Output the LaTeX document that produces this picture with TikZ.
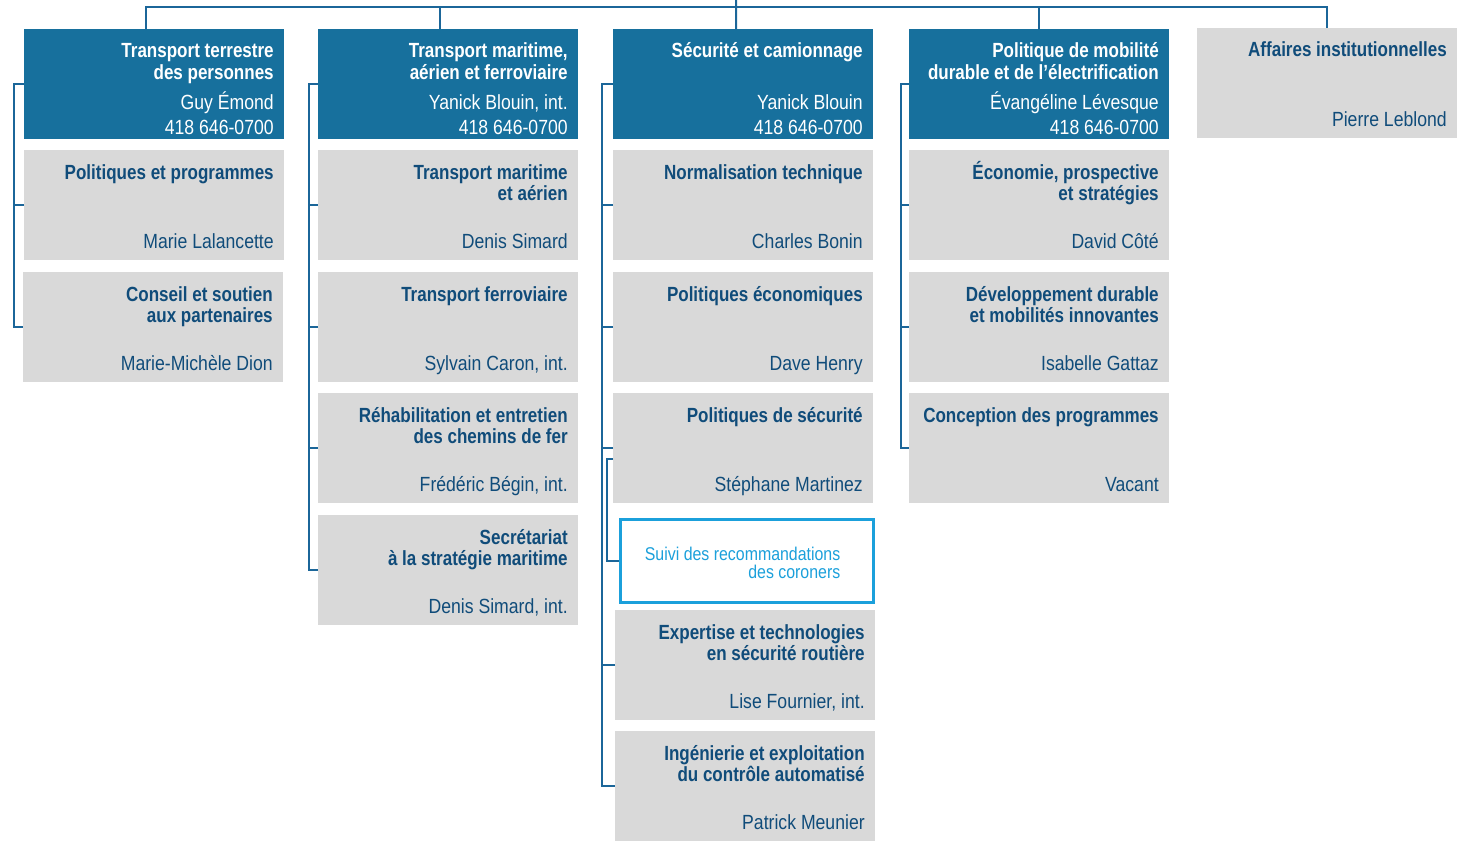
\documentclass[tikz,border=0pt]{standalone}
\usepackage{fontspec}
\setmainfont{Liberation Sans}[FakeStretch=0.86]
\newfontfamily\ttlfamily{Liberation Sans}[FakeStretch=0.83]
\definecolor{hdrblue}{HTML}{17709D}
\definecolor{boxgray}{HTML}{D9D9D9}
\definecolor{navy}{HTML}{104C7A}
\definecolor{linkblue}{HTML}{1B6699}
\definecolor{lightblue}{HTML}{1BA0DB}
\newcommand\ttlines[1]{\begin{tabular}[t]{@{}r@{}}#1\end{tabular}}
\tikzset{
  hdr/.style={fill=hdrblue, draw=none, minimum width=260pt, minimum height=110pt, anchor=north west, inner sep=0pt},
  gbx/.style={fill=boxgray, draw=none, minimum width=260pt, minimum height=110pt, anchor=north west, inner sep=0pt},
  ttl/.style={font=\ttlfamily\bfseries\fontsize{20.5}{21}\selectfont, anchor=base east, inner sep=0pt},
  nm/.style={font=\fontsize{20.5}{21}\selectfont, anchor=base east, inner sep=0pt},
  link/.style={draw=linkblue, line width=2pt},
  subbox/.style={draw=lightblue, line width=2.5pt, fill=white, minimum width=253pt, minimum height=83pt, anchor=north west, inner sep=0pt},
  subtxt/.style={font=\fontsize{18.5}{17.5}\selectfont, text=lightblue, anchor=base east, inner sep=0pt}
}
\newcommand\gcard[5]{%
  \node[gbx] (#1) at (#2,#3) {};
  \node[ttl, text=navy] (#1-t) at ([xshift=-10.5pt,yshift=-29pt]#1.north east) {\ttlines{#4}};
  \node[nm, text=navy] (#1-n) at ([xshift=-10.5pt,yshift=12pt]#1.south east) {#5};
}
\newcommand\hcard[6]{%
  \node[hdr] (#1) at (#2,#3) {};
  \node[ttl, text=white] (#1-t) at ([xshift=-10.5pt,yshift=-29pt]#1.north east) {\ttlines{#4}};
  \node[nm, text=white] (#1-n) at ([xshift=-10.5pt,yshift=30pt]#1.south east) {#5};
  \node[nm, text=white] (#1-p) at ([xshift=-10.5pt,yshift=5pt]#1.south east) {#6};
}
\begin{document}
\begin{tikzpicture}[x=1pt,y=-1pt]
\useasboundingbox (0,0) rectangle (1471,845);
% headers
\hcard{h1}{24}{29}{Transport terrestre\\des personnes}{Guy Émond}{418 646-0700}
\hcard{h2}{318}{29}{Transport maritime,\\aérien et ferroviaire}{Yanick Blouin, int.}{418 646-0700}
\hcard{h3}{613}{29}{Sécurité et camionnage}{Yanick Blouin}{418 646-0700}
\hcard{h4}{909}{29}{Politique de mobilité\\durable et de l’électrification}{Évangéline Lévesque}{418 646-0700}
\gcard{a5}{1197}{28}{Affaires institutionnelles}{Pierre Leblond}
% column 1
\gcard{g11}{24}{150}{Politiques et programmes}{Marie Lalancette}
\gcard{g12}{23}{272}{Conseil et soutien\\aux partenaires}{Marie-Michèle Dion}
% column 2
\gcard{g21}{318}{150}{Transport maritime\\et aérien}{Denis Simard}
\gcard{g22}{318}{272}{Transport ferroviaire}{Sylvain Caron, int.}
\gcard{g23}{318}{393}{Réhabilitation et entretien\\des chemins de fer}{Frédéric Bégin, int.}
\gcard{g24}{318}{515}{Secrétariat\\à la stratégie maritime}{Denis Simard, int.}
% column 3
\gcard{g31}{613}{150}{Normalisation technique}{Charles Bonin}
\gcard{g32}{613}{272}{Politiques économiques}{Dave Henry}
\gcard{g33}{613}{393}{Politiques de sécurité}{Stéphane Martinez}
\node[subbox] (suivi) at (619,518) {};
\node[subtxt] (suivi-t) at ([xshift=-34pt,yshift=-42pt]suivi.north east) {\begin{tabular}[t]{@{}r@{}}Suivi des recommandations\\des coroners\end{tabular}};
\gcard{g35}{615}{610}{Expertise et technologies\\en sécurité routière}{Lise Fournier, int.}
\gcard{g36}{615}{731}{Ingénierie et exploitation\\du contrôle automatisé}{Patrick Meunier}
% column 4
\gcard{g41}{909}{150}{Économie, prospective\\et stratégies}{David Côté}
\gcard{g42}{909}{272}{Développement durable\\et mobilités innovantes}{Isabelle Gattaz}
\gcard{g43}{909}{393}{Conception des programmes}{Vacant}
% top bus
\coordinate (root) at (736,0);
\coordinate (bus) at (736,7);
\coordinate (v1) at ([xshift=-8pt]h1.north);
\coordinate (v2) at ([xshift=-8pt]h2.north);
\coordinate (v3) at ([xshift=-7pt]h3.north);
\draw[link] (root) -- (v3);
\draw[link] (v1) |- (a5.north |- bus) -- (a5.north);
\draw[link] (v2) -- (v2 |- bus);
\draw[link] (h4.north) -- (h4.north |- bus);
% brackets
\coordinate (k1) at ([xshift=-10pt]h1.west);
\draw[link] (h1.west) -- (k1) |- (g12.west);
\draw[link] (g11.west) -- (g11.west -| k1);
\coordinate (k2) at ([xshift=-9pt]h2.west);
\draw[link] (h2.west) -- (k2) |- (g24.west);
\draw[link] (g21.west) -- (g21.west -| k2);
\draw[link] (g22.west) -- (g22.west -| k2);
\draw[link] (g23.west) -- (g23.west -| k2);
\coordinate (k3) at ([xshift=-11pt]h3.west);
\draw[link] (h3.west) -- (k3) |- (g36.west);
\draw[link] (g31.west) -- (g31.west -| k3);
\draw[link] (g32.west) -- (g32.west -| k3);
\draw[link] (g33.west) -- (g33.west -| k3);
\draw[link] (g35.west) -- (g35.west -| k3);
\coordinate (k4) at ([xshift=-8pt]h4.west);
\draw[link] (h4.west) -- (k4) |- (g43.west);
\draw[link] (g41.west) -- (g41.west -| k4);
\draw[link] (g42.west) -- (g42.west -| k4);
% sub-unit link
\coordinate (s0) at ([yshift=44pt]g33.south west);
\draw[link] (s0) -- ++(-6,0) |- (suivi.west);
\end{tikzpicture}
\end{document}
